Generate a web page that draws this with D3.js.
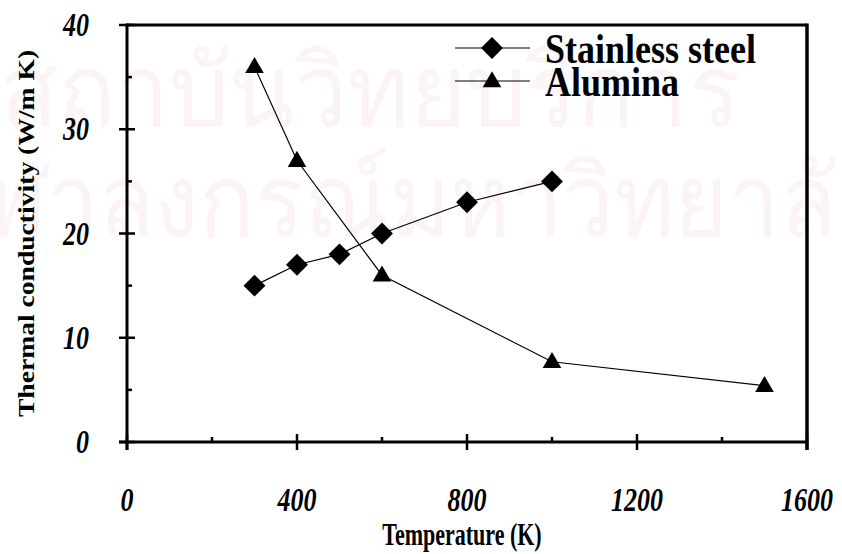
<!DOCTYPE html>
<html>
<head>
<meta charset="utf-8">
<script src="https://cdn.jsdelivr.net/npm/d3@7"></script>
<style>
  html, body { margin: 0; padding: 0; background: #fff; }
  svg { display: block; }
  text { font-family: "Liberation Serif", "Times New Roman", serif; fill: #000; }
</style>
</head>
<body>
<svg id="chart" width="842" height="554"></svg>
<script>
// Thermal conductivity data (W/m K) against temperature (K)
const steelTemps = [300, 400, 500, 600, 800, 1000];
const steelValues = [15, 17, 18, 20, 23, 25];
const aluminaTemps = [300, 400, 600, 1000, 1500];
const aluminaValues = [36, 27, 16, 7.7, 5.4];

const xMajorTicks = [0, 400, 800, 1200, 1600];
const xMinorTicks = [200, 600, 1000, 1400];
const yMajorTicks = [0, 10, 20, 30, 40];
const yMinorTicks = [5, 15, 25, 35];

const seriesNames = ["Stainless steel", "Alumina"];
const watermarkLines = ["สถาบันวิทยบริการ", "จุฬาลงกรณ์มหาวิทยาลัย"];

const svg = d3.select("#chart");
const W = 842, H = 554;
const m = { left: 127, right: 35, top: 25, bottom: 112 };
const x0 = m.left, x1 = W - m.right, y0 = H - m.bottom, y1 = m.top;

const x = d3.scaleLinear().domain([0, 1600]).range([x0, x1]);
const y = d3.scaleLinear().domain([0, 40]).range([y0, y1]);

// faint background watermark
const wm = svg.append("g").attr("class", "watermark");
wm.append("text").attr("x", 0).attr("y", 126)
  .attr("font-family", "'Noto Sans Thai', 'Noto Sans', 'DejaVu Sans', sans-serif")
  .attr("font-size", 100).style("fill", "#fbf3f5")
  .attr("textLength", 740).attr("lengthAdjust", "spacingAndGlyphs")
  .text(watermarkLines[0]);
wm.append("text").attr("x", -70).attr("y", 236)
  .attr("font-family", "'Noto Sans Thai', 'Noto Sans', 'DejaVu Sans', sans-serif")
  .attr("font-size", 100).style("fill", "#fbf3f5")
  .attr("textLength", 960).attr("lengthAdjust", "spacingAndGlyphs")
  .text(watermarkLines[1]);

// plot frame: top and right borders
svg.append("line").attr("x1", x0).attr("x2", x1).attr("y1", y1).attr("y2", y1)
  .attr("stroke", "#000").attr("stroke-width", 3);
svg.append("line").attr("x1", x1).attr("x2", x1).attr("y1", y1 - 1.5).attr("y2", y0 + 8)
  .attr("stroke", "#000").attr("stroke-width", 3.5);

// y axis with crossing major ticks and inner minor ticks
const yAxis = svg.append("g");
yAxis.append("line").attr("x1", x0).attr("x2", x0).attr("y1", y1 - 1.5).attr("y2", y0 + 8)
  .attr("stroke", "#000").attr("stroke-width", 3);
yAxis.selectAll(".ymaj").data(yMajorTicks).join("line")
  .attr("x1", x0 - 8).attr("x2", x0 + 8)
  .attr("y1", d => y(d)).attr("y2", d => y(d))
  .attr("stroke", "#000").attr("stroke-width", 2.5);
yAxis.selectAll(".ymin").data(yMinorTicks).join("line")
  .attr("x1", x0).attr("x2", x0 + 5)
  .attr("y1", d => y(d)).attr("y2", d => y(d))
  .attr("stroke", "#000").attr("stroke-width", 2.5);
yAxis.selectAll(".ylab").data(yMajorTicks).join("text")
  .attr("transform", d => `translate(${x0 - 38},${y(d) + 11}) scale(1,1.3)`)
  .attr("text-anchor", "end")
  .attr("font-size", 26).attr("font-weight", "bold").attr("font-style", "italic")
  .text(d => d);

// x axis with crossing major ticks and inner minor ticks
const xAxis = svg.append("g");
xAxis.append("line").attr("x1", x0 - 8).attr("x2", x1).attr("y1", y0).attr("y2", y0)
  .attr("stroke", "#000").attr("stroke-width", 3);
xAxis.selectAll(".xmaj").data(xMajorTicks).join("line")
  .attr("x1", d => x(d)).attr("x2", d => x(d))
  .attr("y1", y0 - 8).attr("y2", y0 + 8)
  .attr("stroke", "#000").attr("stroke-width", 2.5);
xAxis.selectAll(".xmin").data(xMinorTicks).join("line")
  .attr("x1", d => x(d)).attr("x2", d => x(d))
  .attr("y1", y0).attr("y2", y0 - 5)
  .attr("stroke", "#000").attr("stroke-width", 2.5);
xAxis.selectAll(".xlab").data(xMajorTicks).join("text")
  .attr("transform", d => `translate(${x(d)},${y0 + 69}) scale(1,1.3)`)
  .attr("text-anchor", "middle")
  .attr("font-size", 26).attr("font-weight", "bold").attr("font-style", "italic")
  .text(d => d);

// axis titles
svg.append("text")
  .attr("transform", `translate(${(x0 + x1) / 2 - 5},${H - 9}) scale(1,1.4)`)
  .attr("text-anchor", "middle").attr("font-size", 22).attr("font-weight", "bold")
  .text("Temperature (K)");
svg.append("text")
  .attr("transform", `translate(34,${(y0 + y1) / 2}) rotate(-90) scale(1.15,1)`)
  .attr("text-anchor", "middle").attr("font-size", 24).attr("font-weight", "bold")
  .text("Thermal conductivity (W/m K)");

// series
const line = d3.line().x(d => x(d[0])).y(d => y(d[1]));
const steel = steelTemps.map((t, i) => [t, steelValues[i]]);
const alumina = aluminaTemps.map((t, i) => [t, aluminaValues[i]]);

const diamond = d3.symbol().type(d3.symbolSquare).size(240);
const triangle = d3.symbol().type(d3.symbolTriangle).size(150);

svg.append("path").datum(alumina).attr("d", line)
  .attr("fill", "none").attr("stroke", "#000").attr("stroke-width", 1.2);
svg.append("path").datum(steel).attr("d", line)
  .attr("fill", "none").attr("stroke", "#000").attr("stroke-width", 1.2);

svg.selectAll(".steel").data(steel).join("path")
  .attr("d", diamond)
  .attr("transform", d => `translate(${x(d[0])},${y(d[1])}) rotate(45)`)
  .attr("fill", "#000");
svg.selectAll(".alumina").data(alumina).join("path")
  .attr("d", triangle)
  .attr("transform", d => `translate(${x(d[0])},${y(d[1]) + 1})`)
  .attr("fill", "#000");

// legend
const legend = svg.append("g");
const legY = [48, 81];
legend.selectAll(".lline").data(seriesNames).join("line")
  .attr("x1", 455).attr("x2", 530)
  .attr("y1", (d, i) => legY[i]).attr("y2", (d, i) => legY[i])
  .attr("stroke", "#000").attr("stroke-width", 1.2);
legend.append("path").attr("d", diamond)
  .attr("transform", `translate(492,${legY[0]}) rotate(45)`).attr("fill", "#000");
legend.append("path").attr("d", triangle)
  .attr("transform", `translate(492,${legY[1] + 1})`).attr("fill", "#000");
legend.selectAll(".ltext").data(seriesNames).join("text")
  .attr("transform", (d, i) => `translate(545,${legY[i] + 15}) scale(1,1.15)`)
  .attr("font-size", 36).attr("font-weight", "bold")
  .text(d => d);
</script>
</body>
</html>
